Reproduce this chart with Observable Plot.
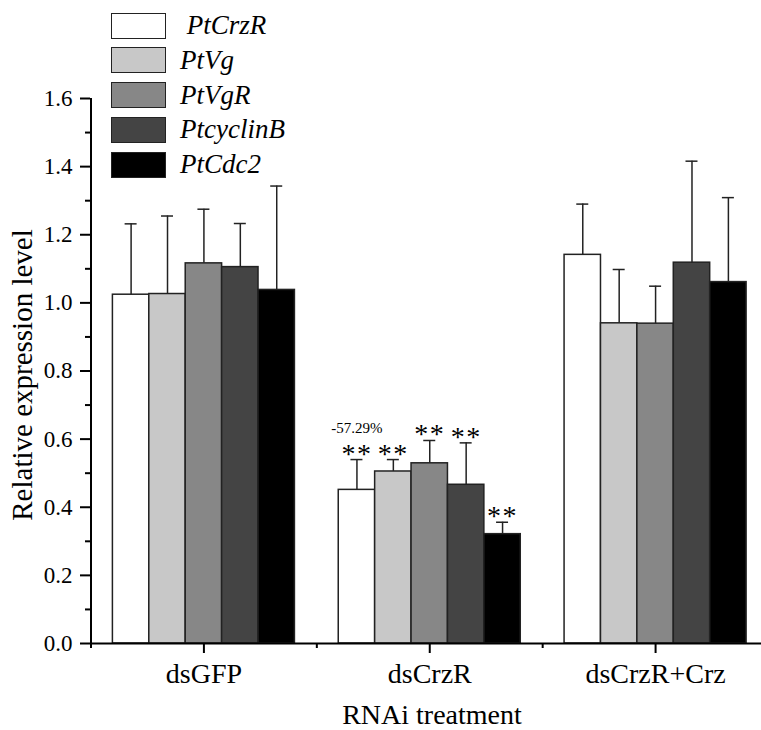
<!DOCTYPE html>
<html><head><meta charset="utf-8">
<script src="https://cdn.jsdelivr.net/npm/d3@7"></script>
<script src="https://cdn.jsdelivr.net/npm/@observablehq/plot@0.6"></script>
<style>
html,body{margin:0;padding:0;background:#fff;overflow:hidden;}
#wrap{position:relative;width:761px;height:730px;font-family:"Liberation Serif","Tinos","Times New Roman","Nimbus Roman","DejaVu Serif",serif;}
#wrap svg{overflow:hidden;}
#legend{position:absolute;left:111px;top:12px;display:flex;flex-direction:column;gap:7.8px;}
.item{display:flex;align-items:center;height:27px;}
.sw{width:53px;height:24px;border:1.5px solid #222;}
.lab{font-style:italic;font-size:27px;margin-left:14px;line-height:27px;white-space:pre;color:#000;}
.sig text{letter-spacing:1.5px;}
</style></head>
<body><div id="wrap"><div id="legend"></div></div>
<script>
// Categories and series
const treatments = ["dsGFP", "dsCrzR", "dsCrzR+Crz"];
const genes = ["PtCrzR", "PtVg", "PtVgR", "PtcyclinB", "PtCdc2"];
const legendLabels = [" PtCrzR", "PtVg", "PtVgR", "PtcyclinB", "PtCdc2"];
const fills = ["#ffffff", "#c8c8c8", "#878787", "#444444", "#000000"];

// Mean relative expression (per gene, across treatments)
const meanPtCrzR    = [1.024, 0.451, 1.141];
const meanPtVg      = [1.026, 0.505, 0.940];
const meanPtVgR     = [1.116, 0.529, 0.939];
const meanPtcyclinB = [1.105, 0.466, 1.118];
const meanPtCdc2    = [1.038, 0.321, 1.061];

// Standard deviation (upper error bars)
const errPtCrzR    = [0.208, 0.089, 0.149];
const errPtVg      = [0.229, 0.035, 0.158];
const errPtVgR     = [0.159, 0.067, 0.110];
const errPtcyclinB = [0.128, 0.123, 0.298];
const errPtCdc2    = [0.305, 0.035, 0.248];

// Significance marks
const sigPtCrzR    = ["", "**", ""];
const sigPtVg      = ["", "**", ""];
const sigPtVgR     = ["", "**", ""];
const sigPtcyclinB = ["", "**", ""];
const sigPtCdc2    = ["", "**", ""];

// Annotation
const noteLabel = "-57.29%";
const noteTreatment = "dsCrzR";
const noteGene = "PtCrzR";

const yMajor = [0, 0.2, 0.4, 0.6, 0.8, 1.0, 1.2, 1.4, 1.6];
const yMinor = [0.1, 0.3, 0.5, 0.7, 0.9, 1.1, 1.3, 1.5];

const means = [meanPtCrzR, meanPtVg, meanPtVgR, meanPtcyclinB, meanPtCdc2];
const errs = [errPtCrzR, errPtVg, errPtVgR, errPtcyclinB, errPtCdc2];
const sigs = [sigPtCrzR, sigPtVg, sigPtVgR, sigPtcyclinB, sigPtCdc2];

const groupSpan = 0.806;
const barW = groupSpan / genes.length;
const rows = [];
treatments.forEach((t, ti) => {
  genes.forEach((g, gi) => {
    const x1 = ti - groupSpan / 2 + gi * barW;
    rows.push({
      treatment: t, gene: g,
      x1, x2: x1 + barW, xc: x1 + barW / 2,
      mean: means[gi][ti],
      top: means[gi][ti] + errs[gi][ti],
      sig: sigs[gi][ti],
      note: (t === noteTreatment && g === noteGene) ? noteLabel : ""
    });
  });
});

const serif = '"Liberation Serif","Tinos","Times New Roman","Nimbus Roman","DejaVu Serif",serif';

const chart = Plot.plot({
  width: 761,
  height: 730,
  marginLeft: 90,
  marginRight: 0,
  marginTop: 98,
  marginBottom: 87,
  x: {domain: [-0.5, 2.5], range: [90.5, 768]},
  y: {domain: [0, 1.6]},
  color: {domain: genes, range: fills},
  style: {fontFamily: serif, fontSize: "23px", color: "#000", background: "#fff", maxWidth: "none"},
  marks: [
    Plot.rect(rows, {x1: "x1", x2: "x2", y1: 0, y2: "mean", fill: "gene", stroke: "#222", strokeWidth: 1.5}),
    Plot.ruleX(rows, {x: "xc", y1: "mean", y2: "top", stroke: "#222", strokeWidth: 1.5}),
    Plot.ruleY(rows, {y: "top", x1: "xc", x2: "xc", insetLeft: -6, insetRight: -6, stroke: "#222", strokeWidth: 1.5}),
    Plot.text(rows.filter(d => d.sig), {x: "xc", y: "top", text: "sig", lineAnchor: "bottom", dy: 3, fontSize: 28, className: "sig", fill: "#000"}),
    Plot.text(rows.filter(d => d.note), {x: "xc", y: "top", text: "note", lineAnchor: "bottom", dy: -27, fontSize: 15, fill: "#000"}),
    Plot.ruleY([0], {stroke: "#000", strokeWidth: 2}),
    Plot.ruleX([-0.5], {stroke: "#000", strokeWidth: 2}),
    Plot.axisY({ticks: yMajor, tickSize: 10, tickPadding: 8, tickFormat: d3.format(".1f"), fontSize: 23, strokeWidth: 2, label: null}),
    Plot.axisY({ticks: yMinor, tickSize: 5, tickFormat: () => "", strokeWidth: 2, label: null}),
    Plot.axisX({ticks: [0, 1, 2], tickSize: 10, tickPadding: 10, tickFormat: i => treatments[i], fontSize: 28, strokeWidth: 2, label: null}),
    Plot.axisX({ticks: [-0.5, 0.5, 1.5, 2.5], tickSize: 5, tickFormat: () => "", strokeWidth: 2, label: null}),
    Plot.text(["Relative expression level"], {frameAnchor: "left", textAnchor: "middle", rotate: -90, dx: -68, dy: 4, text: d => d, fontSize: 29, fill: "#000"}),
    Plot.text(["RNAi treatment"], {frameAnchor: "bottom", textAnchor: "middle", lineAnchor: "bottom", dy: 80, dx: 6, text: d => d, fontSize: 28, fill: "#000"})
  ]
});

const wrap = document.getElementById("wrap");
wrap.insertBefore(chart, wrap.firstChild);

const legend = d3.select("#legend");
genes.forEach((g, i) => {
  const item = legend.append("div").attr("class", "item");
  item.append("div").attr("class", "sw").style("background", fills[i]);
  item.append("div").attr("class", "lab").text(legendLabels[i]);
});
</script>
</body></html>
